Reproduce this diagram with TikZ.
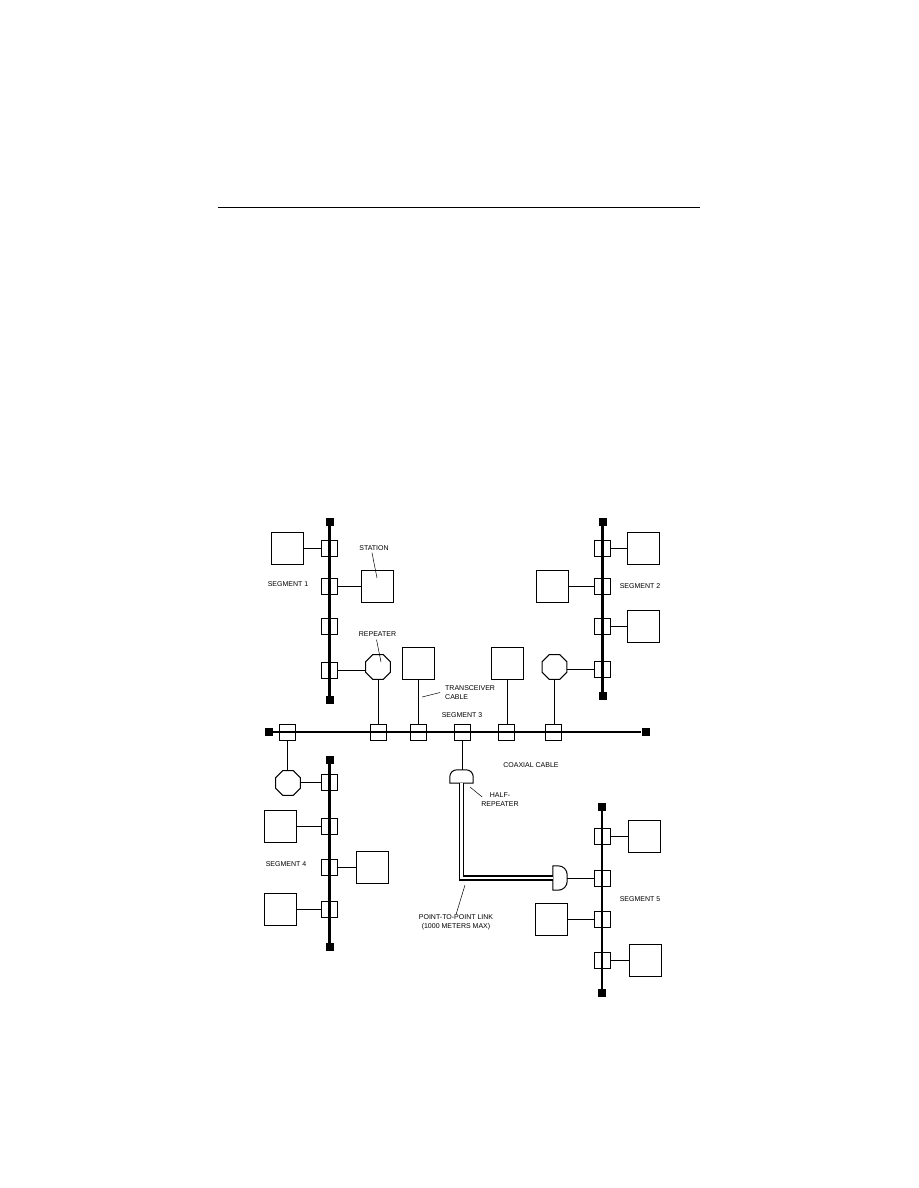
\documentclass[tikz,border=0pt]{standalone}
\usepackage{fontspec}
\setmainfont{Liberation Sans}
\usetikzlibrary{positioning, shapes.geometric}

\begin{document}
\begin{tikzpicture}[
    x=1pt, y=-1pt,
    station/.style={draw, line width=1pt, minimum size=32pt, inner sep=0pt},
    tcvr/.style={draw, line width=1pt, minimum width=16pt, minimum height=16pt, inner sep=0pt},
    repeater/.style={draw, line width=1pt, regular polygon, regular polygon sides=8, minimum size=27pt, inner sep=0pt},
    halfrep/.style={minimum width=23pt, minimum height=13pt, inner sep=0pt},
    halfrepb/.style={minimum width=14pt, minimum height=24pt, inner sep=0pt},
    term/.style={fill=black, minimum size=8pt, inner sep=0pt},
    bus/.style={line width=2.4pt},
    cable/.style={line width=1pt},
    fiber/.style={line width=1.4pt, double=white, double distance=2.4pt},
    leader/.style={line width=0.5pt},
    lbl/.style={font=\fontsize{7}{9}\selectfont, inner sep=0pt, align=center}
]
    \useasboundingbox (0,0) rectangle (918,1188);

    % page rule
    \coordinate (ruleL) at (218,207);
    \coordinate (ruleR) at (700,207);
    \draw[line width=1pt] (ruleL) -- (ruleR);

    % segment 1
    \node[tcvr] (t1a) at (329.7,548) {};
    \node[tcvr] (t1b) at (329.7,586.5) {};
    \node[tcvr] (t1c) at (329.7,626) {};
    \node[tcvr] (t1d) at (329.7,670) {};
    \node[term] (e1a) at (329.5,522) {};
    \node[term] (e1b) at (329.5,700) {};
    \node[station, left=17.5pt of t1a] (s1a) {};
    \node[station, right=22.5pt of t1b] (s1b) {};
    \node[repeater] (r1) at (378,667) {};

    % segment 2
    \node[tcvr] (t2a) at (602.5,548) {};
    \node[tcvr] (t2b) at (602.5,586.5) {};
    \node[tcvr] (t2c) at (602.5,626) {};
    \node[tcvr] (t2d) at (602.5,669) {};
    \node[term] (e2a) at (602.5,522) {};
    \node[term] (e2b) at (602.5,696) {};
    \node[station, right=15.5pt of t2a] (s2a) {};
    \node[station, left=25.5pt of t2b] (s2b) {};
    \node[station, right=15.5pt of t2c] (s2c) {};
    \node[repeater] (r2) at (554.5,667) {};

    % segment 3
    \node[tcvr] (t3a) at (287,732) {};
    \node[tcvr] (t3b) at (378,732) {};
    \node[tcvr] (t3c) at (418,732) {};
    \node[tcvr] (t3d) at (462,732) {};
    \node[tcvr] (t3e) at (506,732) {};
    \node[tcvr] (t3f) at (553,732) {};
    \node[term] (e3a) at (269,732) {};
    \node[term] (e3b) at (645.5,732) {};
    \node[station] (s3a) at (418,663) {};
    \node[station] (s3b) at (507,663) {};

    % segment 4
    \node[tcvr] (t4a) at (329.5,782.5) {};
    \node[tcvr] (t4b) at (329.5,826) {};
    \node[tcvr] (t4c) at (329.5,867) {};
    \node[tcvr] (t4d) at (329.5,909) {};
    \node[term] (e4a) at (329.5,760) {};
    \node[term] (e4b) at (329.5,947) {};
    \node[repeater] (r3) at (288,783) {};
    \node[station, left=24pt of t4b] (s4a) {};
    \node[station, right=18pt of t4c] (s4b) {};
    \node[station, left=24pt of t4d] (s4c) {};

    % segment 5
    \node[tcvr] (t5a) at (602,836) {};
    \node[tcvr] (t5b) at (602,878) {};
    \node[tcvr] (t5c) at (602,919.5) {};
    \node[tcvr] (t5d) at (602,960) {};
    \node[term] (e5a) at (602,806.5) {};
    \node[term] (e5b) at (602,993) {};
    \node[station, right=17.5pt of t5a] (s5a) {};
    \node[station, left=26pt of t5c] (s5b) {};
    \node[station, right=18.5pt of t5d] (s5c) {};

    % half repeaters
    \node[halfrep] (h1) at (461.5,776.5) {};
    \node[halfrepb] (h2) at (560,878) {};
    \draw[line width=1pt] (h1.south west) [rounded corners=7pt] -- (h1.north west) -- (h1.north east) [sharp corners] -- (h1.south east) -- cycle;
    \draw[line width=1pt] (h2.south west) -- (h2.north west) [rounded corners=9pt] -- (h2.north east) -- (h2.south east) [sharp corners] -- cycle;

    % coax runs
    \draw[bus] (e1a) -- (e1b);
    \draw[bus] (e2a) -- (e2b);
    \draw[bus] (e3a) -- (e3b);
    \draw[bus] (e4a) -- (e4b);
    \draw[bus] (e5a) -- (e5b);

    % transceiver cables
    \draw[cable] (s1a) -- (t1a);
    \draw[cable] (t1b) -- (s1b);
    \draw[cable] (t1d.east) -- (r1.west |- t1d.east);
    \draw[cable] (r1.south) -- (t3b.north);
    \draw[cable] (s3a) -- (t3c);
    \draw[cable] (s3b.south) -- (t3e.north -| s3b.south);
    \draw[cable] (r2.south) -- (t3f.north -| r2.south);
    \draw[cable] (t2a) -- (s2a);
    \draw[cable] (s2b) -- (t2b);
    \draw[cable] (t2c) -- (s2c);
    \draw[cable] (r2.east |- t2d.west) -- (t2d.west);
    \draw[cable] (t3a.south) -- (r3.north -| t3a.south);
    \draw[cable] (r3.east |- t4a.west) -- (t4a.west);
    \draw[cable] (s4a) -- (t4b);
    \draw[cable] (t4c) -- (s4b);
    \draw[cable] (s4c) -- (t4d);
    \draw[cable] (t5a) -- (s5a);
    \draw[cable] (s5b) -- (t5c);
    \draw[cable] (t5d) -- (s5c);
    \draw[cable] (h2) -- (t5b);
    \draw[cable] (t3d.south) -- (h1.north -| t3d.south);
    \draw[fiber] (h1.south) |- (h2.west);

    % labels
    \node[lbl] (l1) at (288,584.5) {SEGMENT 1};
    \node[lbl] (l2) at (640,586) {SEGMENT 2};
    \node[lbl] (l3) at (462,715) {SEGMENT 3};
    \node[lbl] (l4) at (286,864) {SEGMENT 4};
    \node[lbl] (l5) at (640,899) {SEGMENT 5};
    \node[lbl] (lstation) at (374,548) {STATION};
    \node[lbl] (lrep) at (377.5,634) {REPEATER};
    \node[lbl, align=left, anchor=west] (ltrans) at (445,692.5) {TRANSCEIVER\\CABLE};
    \node[lbl] (lcoax) at (531,765) {COAXIAL CABLE};
    \node[lbl] (lhalf) at (500,800) {HALF-\\REPEATER};
    \node[lbl] (llink) at (456,922.5) {POINT-TO-POINT LINK\\(1000 METERS MAX)};

    % leaders
    \coordinate (a1) at (377,578);
    \coordinate (a2) at (381,662);
    \coordinate (a3) at (422,697);
    \coordinate (a4) at (470,787);
    \coordinate (a5) at (465,885);
    \draw[leader] (lstation.south) ++(-2,2) -- (a1);
    \draw[leader] (lrep.south) ++(-1,3) -- (a2);
    \draw[leader] (ltrans.west) ++(-5,0) -- (a3);
    \draw[leader] (lhalf.west) ++(1,-3) -- (a4);
    \draw[leader] (llink.north) -- (a5);
\end{tikzpicture}
\end{document}
